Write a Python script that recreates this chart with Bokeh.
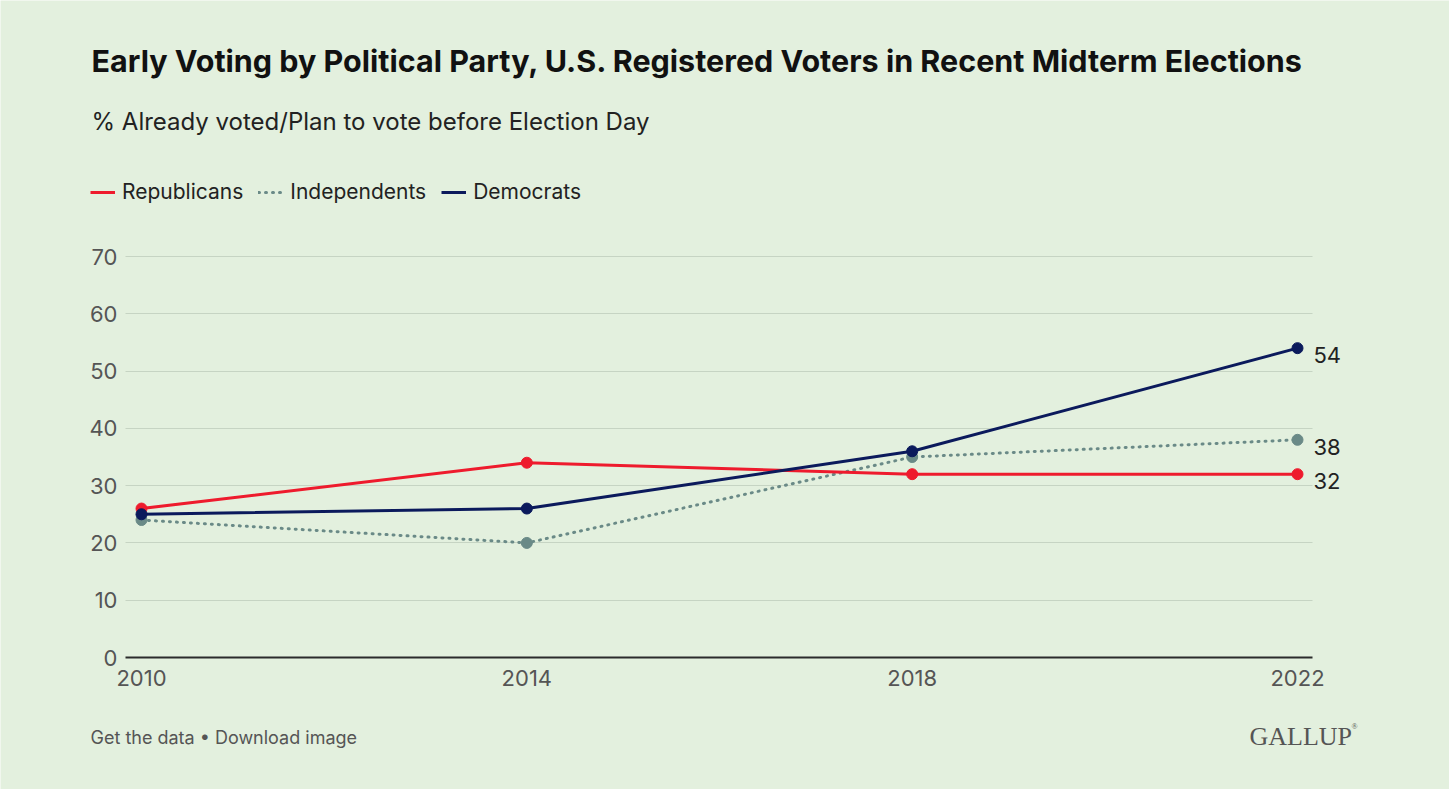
from bokeh.plotting import figure
from bokeh.models import Range1d, FixedTicker, Label, Legend, LegendItem, ColumnDataSource, Grid
from bokeh.core.properties import value
from bokeh.embed import file_html
from bokeh.resources import INLINE

# ---- data ----
years = [2010, 2014, 2018, 2022]
republicans = [26, 34, 32, 32]
independents = [24, 20, 35, 38]
democrats = [25, 26, 36, 54]
y_ticks = [0, 10, 20, 30, 40, 50, 60, 70]
series_names = ["Republicans", "Independents", "Democrats"]

title_text = "Early Voting by Political Party, U.S. Registered Voters in Recent Midterm Elections"
subtitle_text = "% Already voted/Plan to vote before Election Day"
footer_text = "Get the data \u2022 Download image"
brand_text = "GALLUP"

# ---- style / layout ----
BG = "#e3f0de"
RED = "#ee1b2d"
GREY = "#6a8a87"
NAVY = "#0b1a5c"
FONT = "Inter"

W, H = 1449, 789
# pixel anchors of the plotting area
PX_FIRST, PX_LAST = 141, 1297      # x pixel of first / last year
PY_ZERO, PY_TOP = 657, 256         # y pixel of 0 and 70
PX_AREA_L, PX_AREA_R = 125, 1312   # grid extent

xs = (PX_LAST - PX_FIRST) / (years[-1] - years[0])
ys = (PY_ZERO - PY_TOP) / (y_ticks[-1] - y_ticks[0])
x0 = years[0] - PX_FIRST / xs
x1 = years[0] + (W - PX_FIRST) / xs
y0 = -(H - PY_ZERO) / ys
y1 = PY_ZERO / ys
area_l = years[0] - (PX_FIRST - PX_AREA_L) / xs
area_r = years[0] + (PX_AREA_R - PX_FIRST) / xs

p = figure(width=W, height=H, output_backend="svg", toolbar_location=None,
           x_range=Range1d(x0, x1), y_range=Range1d(y0, y1),
           min_border=0, background_fill_color=BG, border_fill_color=BG,
           outline_line_color=None)
p.title.visible = False

# axes positioned inside the frame
xa = p.xaxis[0]
ya = p.yaxis[0]
xa.fixed_location = 0
ya.fixed_location = area_l
xa.bounds = (area_l, area_r)
xa.ticker = FixedTicker(ticks=years)
ya.ticker = FixedTicker(ticks=y_ticks)
for ax in (xa, ya):
    ax.major_tick_line_color = None
    ax.minor_tick_line_color = None
    ax.major_tick_out = 0
    ax.major_tick_in = 0
    ax.minor_tick_out = 0
    ax.major_label_text_font = FONT
    ax.major_label_text_font_size = "22px"
    ax.major_label_text_color = "#555555"
ya.axis_line_color = None
ya.major_label_standoff = 8
xa.axis_line_color = "#2b2b2b"
xa.axis_line_width = 2
xa.major_label_standoff = 12

p.xgrid.grid_line_color = None
GRID_COLOR = "#c6d4c3"
if "cross_bounds" in Grid.properties():
    p.ygrid.ticker = FixedTicker(ticks=y_ticks[1:])
    p.ygrid.cross_bounds = (area_l, area_r)
    p.ygrid.grid_line_color = GRID_COLOR
    p.ygrid.grid_line_width = 1.2
else:
    p.ygrid.grid_line_color = None
    gy = y_ticks[1:]
    p.segment(x0=[area_l] * len(gy), y0=gy, x1=[area_r] * len(gy), y1=gy,
              line_color=GRID_COLOR, line_width=1.2)

src = ColumnDataSource(dict(x=years, r=republicans, i=independents, d=democrats))

ri = p.line("x", "i", source=src, line_color=GREY, line_width=3, line_dash="1 6", line_cap="round")
p.scatter("x", "i", source=src, size=11, fill_color=GREY, line_color=GREY)
rr = p.line("x", "r", source=src, line_color=RED, line_width=3)
p.scatter("x", "r", source=src, size=11, fill_color=RED, line_color=RED)
rd = p.line("x", "d", source=src, line_color=NAVY, line_width=3)
p.scatter("x", "d", source=src, size=11, fill_color=NAVY, line_color=NAVY)

# end labels
end_src = ColumnDataSource(dict(
    x=[years[-1]] * 3,
    y=[democrats[-1], independents[-1], republicans[-1]],
    t=[str(democrats[-1]), str(independents[-1]), str(republicans[-1])]))
p.text("x", "y", text="t", source=end_src, x_offset=16, y_offset=7,
       text_font=value(FONT), text_font_size="22px", text_color="#222222",
       text_baseline="middle", text_align="left")

# legend
legend = Legend(items=[LegendItem(label=series_names[0], renderers=[rr]),
                       LegendItem(label=series_names[1], renderers=[ri]),
                       LegendItem(label=series_names[2], renderers=[rd])],
                orientation="horizontal", location=(90, H - 204),
                glyph_width=25, glyph_height=20, label_standoff=7, spacing=15,
                padding=0, margin=0, border_line_alpha=0, background_fill_alpha=0,
                label_text_font=FONT, label_text_font_size="21px", label_text_color="#222222")
p.add_layout(legend, "center")

def add_label(text, px, py, size, color, font=FONT, style="normal", align="left"):
    p.add_layout(Label(x=px, y=H - py, x_units="screen", y_units="screen", text=text,
                       text_font=font, text_font_size=size, text_color=color,
                       text_font_style=style, text_align=align, text_baseline="alphabetic"))

add_label(title_text, 91, 60, "30.5px", "#111111", style="bold")
add_label(subtitle_text, 91, 121, "24px", "#222222")
add_label(footer_text, 90, 737, "18px", "#555555")
add_label(brand_text, 1249, 736, "26px", "#555555", font="Liberation Serif")
add_label("\u00ae", 1351, 726, "8px", "#555555", font="Liberation Serif")

open("out.html", "w").write(file_html(p, INLINE))
